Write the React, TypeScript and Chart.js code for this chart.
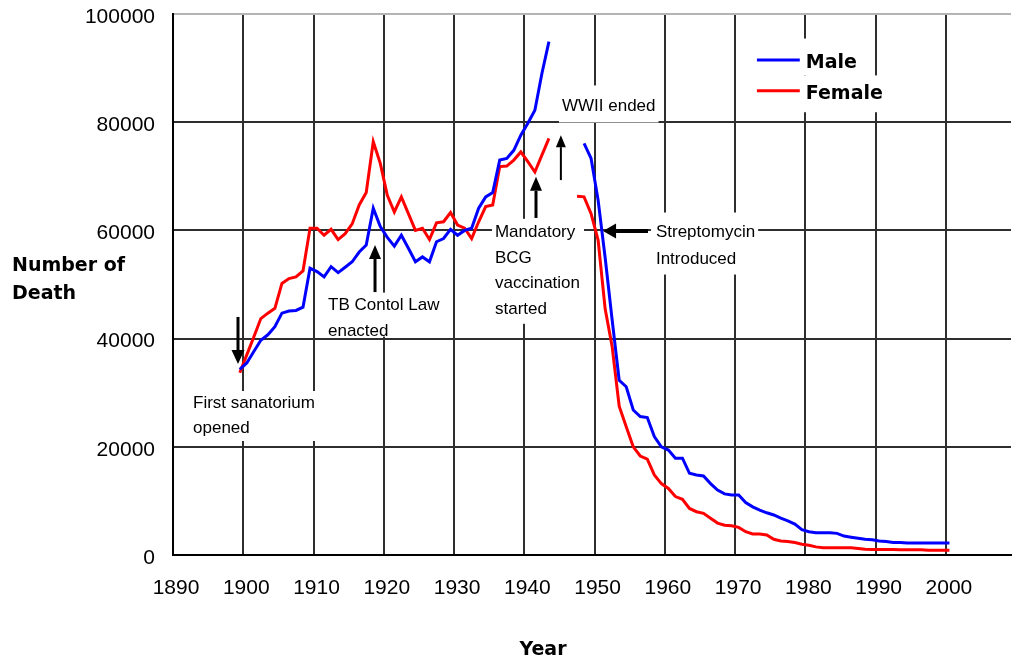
import React, { useEffect, useRef } from 'react';
import { Chart, registerables } from 'chart.js';

Chart.register(...registerables);

// ---- data ----
const years = [
  1899, 1900, 1901, 1902, 1903, 1904, 1905, 1906, 1907, 1908, 1909,
  1910, 1911, 1912, 1913, 1914, 1915, 1916, 1917, 1918, 1919,
  1920, 1921, 1922, 1923, 1924, 1925, 1926, 1927, 1928, 1929,
  1930, 1931, 1932, 1933, 1934, 1935, 1936, 1937, 1938, 1939,
  1940, 1941, 1942, 1943, 1944, 1945, 1946, 1947, 1948, 1949,
  1950, 1951, 1952, 1953, 1954, 1955, 1956, 1957, 1958, 1959,
  1960, 1961, 1962, 1963, 1964, 1965, 1966, 1967, 1968, 1969,
  1970, 1971, 1972, 1973, 1974, 1975, 1976, 1977, 1978, 1979,
  1980, 1981, 1982, 1983, 1984, 1985, 1986, 1987, 1988, 1989,
  1990, 1991, 1992, 1993, 1994, 1995, 1996, 1997, 1998, 1999,
  2000,
];

const maleDeaths = [
  34300, 35500, 37600, 39700, 40700, 42200, 44700, 45100, 45200, 45800, 53000,
  52400, 51400, 53300, 52200, 53200, 54200, 56000, 57300, 64100, 60700,
  58700, 57100, 59100, 56700, 54200, 55100, 54200, 57900, 58500, 60200,
  59100, 60000, 60400, 64100, 66200, 67000, 73000, 73300, 74800, 77600,
  79800, 82200, 89000, 94900, null, null, null, null, 76100, 73300,
  65600, 55000, 43400, 32300, 31100, 26800, 25600, 25400, 21900, 20000,
  19400, 17900, 17900, 15100, 14800, 14600, 13200, 12000, 11300, 11100,
  11100, 9700, 8900, 8300, 7800, 7400, 6800, 6300, 5700, 4700,
  4300, 4100, 4100, 4100, 4000, 3500, 3300, 3100, 2900, 2800,
  2600, 2500, 2300, 2300, 2200, 2200, 2200, 2200, 2200, 2200,
  2200,
];

const femaleDeaths = [
  33700, 37000, 40300, 43700, 44700, 45600, 50200, 51100, 51400, 52500, 60400,
  60400, 59100, 60200, 58300, 59400, 61200, 64700, 67000, 76400, 72400,
  66500, 63400, 66200, 63100, 60000, 60400, 58300, 61400, 61600, 63300,
  61000, 60400, 58500, 61600, 64400, 64700, 71800, 71900, 73000, 74500,
  72700, 70800, 73900, 77000, null, null, null, 66300, 66200, 63100,
  58200, 45500, 38500, 27500, 23700, 20000, 18300, 17700, 14800, 13200,
  12300, 10800, 10300, 8600, 8000, 7700, 6800, 5900, 5500, 5400,
  5100, 4300, 3900, 3900, 3700, 2900, 2600, 2500, 2300, 2000,
  1800, 1500, 1350, 1350, 1350, 1350, 1350, 1200, 1050, 1000,
  1000, 1000, 1000, 950, 950, 950, 950, 900, 900, 900,
  900,
];

const seriesLabels = ['Male', 'Female'];
const seriesColors = ['#0000ff', '#ff0000'];

const xTickStep = 10;
const yTickStep = 20000;
const xRange = [1890, 2009.26];
const yRange = [0, 100000];

const yAxisTitle = ['Number of', 'Death'];
const xAxisTitle = 'Year';

// annotation texts with anchors in data units (year, deaths)
const notes = [
  {
    lines: ['First sanatorium', 'opened'],
    at: [1892.85, 28000], gap: 25, pad: [0, 3, 0, 3],
    arrow: { from: [1899.25, 44000], to: [1899.25, 35300], shaft: 3, head: [14, 13] },
  },
  {
    lines: ['TB Contol Law', 'enacted'],
    at: [1912.06, 46100], gap: 26, pad: [0, 3, -8, 3],
    arrow: { from: [1918.75, 48600], to: [1918.75, 57300], shaft: 3, head: [14, 12] },
  },
  {
    lines: ['Mandatory', 'BCG', 'vaccination', 'started'],
    at: [1935.82, 59600], gap: 25.5, pad: [1, 4, 2, 3],
    arrow: { from: [1941.66, 62300], to: [1941.66, 69900], shaft: 3, head: [14, 12] },
  },
  {
    lines: ['WWII ended'],
    at: [1945.36, 83000], gap: 25, pad: [8, 3, 4, 3],
    arrow: { from: [1945.2, 69300], to: [1945.2, 77600], shaft: 2, head: [12, 10] },
  },
  {
    lines: ['Streptomycin', 'Introduced'],
    at: [1958.73, 59700], gap: 27, pad: [6, 3, 2, 5],
    arrow: { from: [1957.6, 59900], to: [1951.2, 59900], shaft: 4, head: [13, 15] },
  },
];

const legendAnchor = { lineFrom: 1973.1, lineTo: 1979.2, textAt: 1980.05, rows: [91500, 85800] };

const NOTE_FONT = '17px "Liberation Sans", Arial, sans-serif';
const BOLD_FONT = 'bold 19px "DejaVu Sans", Verdana, sans-serif';

function drawArrow(ctx: CanvasRenderingContext2D, x1: number, y1: number, x2: number, y2: number, shaft: number, headLen: number, headW: number) {
  const ang = Math.atan2(y2 - y1, x2 - x1);
  const bx = x2 - headLen * Math.cos(ang);
  const by = y2 - headLen * Math.sin(ang);
  ctx.lineWidth = shaft;
  ctx.beginPath();
  ctx.moveTo(x1, y1);
  ctx.lineTo(bx, by);
  ctx.stroke();
  ctx.beginPath();
  ctx.moveTo(x2, y2);
  ctx.lineTo(bx + (headW / 2) * Math.sin(ang), by - (headW / 2) * Math.cos(ang));
  ctx.lineTo(bx - (headW / 2) * Math.sin(ang), by + (headW / 2) * Math.cos(ang));
  ctx.closePath();
  ctx.fill();
}

const notesPlugin = {
  id: 'notesPlugin',
  beforeDatasetsDraw(chart: any) {
    const { ctx, scales } = chart;
    const xs = scales.x;
    const ys = scales.y;
    ctx.save();
    ctx.fillStyle = '#ffffff';
    ctx.font = NOTE_FONT;
    notes.forEach((n) => {
      const left = xs.getPixelForValue(n.at[0]);
      const cy = ys.getPixelForValue(n.at[1]);
      const w = Math.max(...n.lines.map((l) => ctx.measureText(l).width));
      const [pt, pr, pb, pl] = n.pad;
      ctx.fillRect(left - pl, cy - n.gap / 2 - pt, w + pl + pr, n.lines.length * n.gap + pt + pb);
    });
    // legend background
    ctx.font = BOLD_FONT;
    const lx = xs.getPixelForValue(legendAnchor.lineFrom);
    const tx = xs.getPixelForValue(legendAnchor.textAt);
    const rowPx = legendAnchor.rows.map((v) => ys.getPixelForValue(v));
    const rowGap = rowPx[1] - rowPx[0];
    chart.data.datasets.forEach((ds: any, i: number) => {
      const w = ctx.measureText(ds.label).width;
      const top = rowPx[i] - rowGap / 2 - (i === 0 ? 6 : 0);
      const h = rowGap + 6;
      ctx.fillRect(lx - 12, top, tx + w + 6 - (lx - 12), h);
    });
    ctx.restore();
  },
  afterDatasetsDraw(chart: any) {
    const { ctx, scales, chartArea } = chart;
    const xs = scales.x;
    const ys = scales.y;
    ctx.save();
    ctx.fillStyle = '#000';
    ctx.strokeStyle = '#000';
    ctx.font = NOTE_FONT;
    ctx.textBaseline = 'middle';
    ctx.textAlign = 'left';
    notes.forEach((n) => {
      const left = xs.getPixelForValue(n.at[0]);
      const cy = ys.getPixelForValue(n.at[1]);
      n.lines.forEach((l, i) => ctx.fillText(l, left, cy + i * n.gap));
      const a = n.arrow;
      drawArrow(
        ctx,
        xs.getPixelForValue(a.from[0]), ys.getPixelForValue(a.from[1]),
        xs.getPixelForValue(a.to[0]), ys.getPixelForValue(a.to[1]),
        a.shaft, a.head[0], a.head[1]
      );
    });

    // legend
    const lx1 = xs.getPixelForValue(legendAnchor.lineFrom);
    const lx2 = xs.getPixelForValue(legendAnchor.lineTo);
    const tx = xs.getPixelForValue(legendAnchor.textAt);
    ctx.font = BOLD_FONT;
    chart.data.datasets.forEach((ds: any, i: number) => {
      const ry = ys.getPixelForValue(legendAnchor.rows[i]);
      ctx.strokeStyle = ds.borderColor;
      ctx.lineWidth = 3;
      ctx.beginPath();
      ctx.moveTo(lx1, ry);
      ctx.lineTo(lx2, ry);
      ctx.stroke();
      ctx.fillStyle = '#000';
      ctx.fillText(ds.label, tx, ry + 3);
    });

    // axis titles
    ctx.fillStyle = '#000';
    ctx.font = BOLD_FONT;
    ctx.textAlign = 'left';
    const ty = ys.getPixelForValue(53500);
    yAxisTitle.forEach((t, i) => ctx.fillText(t, 12, ty + i * 28.5));
    ctx.textAlign = 'center';
    ctx.fillText(xAxisTitle, xs.getPixelForValue(1942.65), chartArea.bottom + 95);
    ctx.restore();
  },
};

export default function App() {
  const canvasRef = useRef<HTMLCanvasElement | null>(null);

  useEffect(() => {
    document.body.style.margin = '0';
    const canvas = canvasRef.current;
    if (!canvas) return;
    const gridColor = (c: any) => (c.tick && c.tick.value === yRange[1] ? '#b4b4b4' : '#2e2e2e');
    const chart = new Chart(canvas, {
      type: 'line',
      data: {
        datasets: [
          {
            label: seriesLabels[0],
            data: years.map((yr, i) => ({ x: yr + 0.5, y: maleDeaths[i] })),
            borderColor: seriesColors[0],
            borderWidth: 3,
            pointRadius: 0,
            tension: 0,
            spanGaps: false,
          },
          {
            label: seriesLabels[1],
            data: years.map((yr, i) => ({ x: yr + 0.5, y: femaleDeaths[i] })),
            borderColor: seriesColors[1],
            borderWidth: 3,
            pointRadius: 0,
            tension: 0,
            spanGaps: false,
          },
        ],
      },
      options: {
        animation: false,
        responsive: false,
        devicePixelRatio: 1,
        layout: { padding: { top: 14, right: 1, left: 0, bottom: 0 } },
        plugins: { legend: { display: false }, tooltip: { enabled: false } },
        scales: {
          x: {
            type: 'linear',
            min: xRange[0],
            max: xRange[1],
            ticks: {
              stepSize: xTickStep,
              includeBounds: false,
              color: '#000',
              padding: 21,
              labelOffset: 3,
              maxRotation: 0,
              autoSkip: false,
              font: { family: '"Liberation Sans", Arial, sans-serif', size: 21 },
              callback: (v: any) => String(v),
            },
            grid: { color: '#2e2e2e', lineWidth: 2, drawTicks: false },
            border: { color: '#000', width: 2 },
            afterFit: (s: any) => { s.height = 107; s.paddingLeft = 0; s.paddingRight = 0; },
          },
          y: {
            type: 'linear',
            min: yRange[0],
            max: yRange[1],
            ticks: {
              stepSize: yTickStep,
              color: '#000',
              padding: 18,
              labelOffset: 3,
              font: { family: '"Liberation Sans", Arial, sans-serif', size: 21 },
              callback: (v: any) => String(v),
            },
            grid: { color: gridColor, lineWidth: 2, drawTicks: false },
            border: { color: '#000', width: 2 },
            afterFit: (s: any) => { s.width = 173; s.paddingTop = 0; s.paddingBottom = 0; },
          },
        },
      },
      plugins: [notesPlugin],
    } as any);
    return () => chart.destroy();
  }, []);

  return (
    <div style={{ width: 1012, height: 662 }}>
      <canvas ref={canvasRef} width={1012} height={662} style={{ display: 'block' }} />
    </div>
  );
}
